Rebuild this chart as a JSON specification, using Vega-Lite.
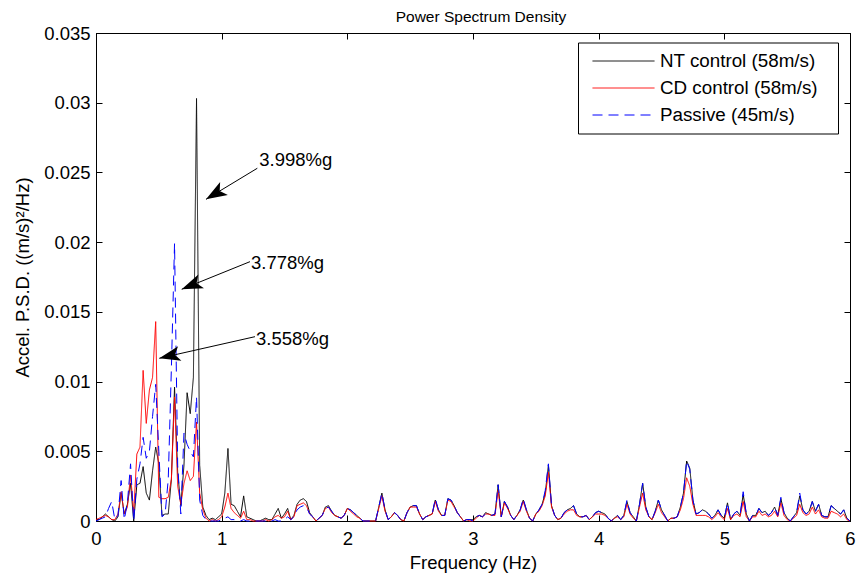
{
"$schema": "https://vega.github.io/schema/vega-lite/v6.json",
"width": 754, "height": 488,
"autosize": {"type": "none"},
"padding": {"left": 96, "top": 33, "right": 6, "bottom": 56},
"background": "white",
"title": {"text": "Power Spectrum Density", "fontSize": 15.5, "font": "Liberation Sans", "fontWeight": "normal", "color": "black", "anchor": "middle", "offset": -1, "dx": 8},
"config": {
 "view": {"stroke": "black", "strokeWidth": 1},
 "axis": {"domainColor": "black", "tickColor": "black", "labelColor": "black", "titleColor": "black", "labelFont": "Liberation Sans", "titleFont": "Liberation Sans", "labelFontSize": 18.5, "titleFontSize": 18.5, "titleFontWeight": "normal", "grid": false, "tickSize": -6, "domainWidth": 1, "tickWidth": 1, "labelFlush": false, "labelOverlap": false},
 "legend": {"orient": "none", "legendX": 482, "legendY": 9.5, "direction": "vertical", "strokeColor": "black", "fillColor": "white", "padding": 8, "symbolType": "M-0.4,0L5.8,0", "symbolSize": 400, "symbolStrokeWidth": 1, "labelFont": "Liberation Sans", "labelFontSize": 18.8, "labelColor": "black", "labelOffset": 53, "rowPadding": 6, "labelLimit": 400, "titleOrient": "right", "titlePadding": 6, "titleFontSize": 18, "titleColor": "white"}
},
"datasets": {
 "psd": [
{"f":0,"nt":0.0001,"cd":0.0001,"ps":0},
{"f":0.025,"nt":0.0001,"cd":0.0002,"ps":0.0001},
{"f":0.05,"nt":0.0003,"cd":0.0003,"ps":0.0002},
{"f":0.075,"nt":0.0005,"cd":0.0004,"ps":0.0003},
{"f":0.1,"nt":0.0003,"cd":0.0003,"ps":0.0009},
{"f":0.125,"nt":0.0001,"cd":0.0001,"ps":0.0014},
{"f":0.15,"nt":0,"cd":0.0001,"ps":0.0001},
{"f":0.175,"nt":0.0003,"cd":0.0005,"ps":0.0004},
{"f":0.2,"nt":0.002,"cd":0.0021,"ps":0.0029},
{"f":0.225,"nt":0.0005,"cd":0.0005,"ps":0.0001},
{"f":0.25,"nt":0.0012,"cd":0.001,"ps":0.0013},
{"f":0.275,"nt":0.0027,"cd":0.0033,"ps":0.0041},
{"f":0.3,"nt":0,"cd":0.0006,"ps":0},
{"f":0.325,"nt":0.0026,"cd":0.0048,"ps":0.003},
{"f":0.35,"nt":0.0027,"cd":0.0053,"ps":0.0041},
{"f":0.375,"nt":0.0039,"cd":0.0108,"ps":0.006},
{"f":0.4,"nt":0.002,"cd":0.007,"ps":0.0045},
{"f":0.425,"nt":0.0015,"cd":0.0094,"ps":0.005},
{"f":0.45,"nt":0.0036,"cd":0.0103,"ps":0.0075},
{"f":0.475,"nt":0.0053,"cd":0.0143,"ps":0.0098},
{"f":0.5,"nt":0.0041,"cd":0.0017,"ps":0.005},
{"f":0.525,"nt":0.0004,"cd":0.0016,"ps":0.0003},
{"f":0.55,"nt":0.0005,"cd":0.0016,"ps":0.0005},
{"f":0.575,"nt":0.0005,"cd":0.0017,"ps":0.003},
{"f":0.6,"nt":0.003,"cd":0.003,"ps":0.011},
{"f":0.625,"nt":0.0096,"cd":0.0089,"ps":0.0199},
{"f":0.65,"nt":0.0035,"cd":0.0025,"ps":0.004},
{"f":0.675,"nt":0.0011,"cd":0.0012,"ps":0.0005},
{"f":0.7,"nt":0.004,"cd":0.0027,"ps":0.0063},
{"f":0.725,"nt":0.0092,"cd":0.0036,"ps":0.0055},
{"f":0.75,"nt":0.0077,"cd":0.0029,"ps":0.005},
{"f":0.775,"nt":0.0103,"cd":0.0032,"ps":0.0046},
{"f":0.8,"nt":0.0303,"cd":0.0071,"ps":0.0089},
{"f":0.825,"nt":0.004,"cd":0.002,"ps":0.0015},
{"f":0.85,"nt":0.001,"cd":0.0008,"ps":0.0004},
{"f":0.875,"nt":0.0004,"cd":0.0002,"ps":0.0001},
{"f":0.9,"nt":0.0001,"cd":0,"ps":0},
{"f":0.925,"nt":0.0002,"cd":0.0001,"ps":0},
{"f":0.95,"nt":0.0001,"cd":0,"ps":0},
{"f":0.975,"nt":0.0003,"cd":0.0001,"ps":0},
{"f":1,"nt":0.0005,"cd":0.0003,"ps":0.0001},
{"f":1.025,"nt":0.002,"cd":0.001,"ps":0.0002},
{"f":1.05,"nt":0.0052,"cd":0.002,"ps":0.0003},
{"f":1.075,"nt":0.0012,"cd":0.0009,"ps":0.0001},
{"f":1.1,"nt":0.0011,"cd":0.0006,"ps":0.0001},
{"f":1.125,"nt":0.0007,"cd":0.0004,"ps":0},
{"f":1.15,"nt":0.0003,"cd":0.0002,"ps":0},
{"f":1.175,"nt":0.0018,"cd":0.0007,"ps":0.0001},
{"f":1.2,"nt":0.0003,"cd":0.0001,"ps":0},
{"f":1.225,"nt":0.0002,"cd":0.0001,"ps":0},
{"f":1.25,"nt":0.0001,"cd":0,"ps":0},
{"f":1.275,"nt":0,"cd":0,"ps":0},
{"f":1.3,"nt":0,"cd":0,"ps":0},
{"f":1.325,"nt":0.0001,"cd":0,"ps":0},
{"f":1.35,"nt":0.0002,"cd":0.0001,"ps":0},
{"f":1.375,"nt":0.0001,"cd":0,"ps":0},
{"f":1.4,"nt":0.0001,"cd":0.0001,"ps":0},
{"f":1.425,"nt":0.0005,"cd":0.0003,"ps":0.0001},
{"f":1.45,"nt":0.0009,"cd":0.0004,"ps":0},
{"f":1.475,"nt":0.0002,"cd":0.0002,"ps":0},
{"f":1.5,"nt":0.0005,"cd":0.0003,"ps":0.0001},
{"f":1.525,"nt":0.0009,"cd":0.0007,"ps":0.0003},
{"f":1.55,"nt":0.0001,"cd":0.0001,"ps":0.0001},
{"f":1.575,"nt":0.0004,"cd":0.0003,"ps":0.0003},
{"f":1.6,"nt":0.0012,"cd":0.0011,"ps":0.0008},
{"f":1.625,"nt":0.0015,"cd":0.0012,"ps":0.001},
{"f":1.65,"nt":0.0016,"cd":0.0013,"ps":0.0011},
{"f":1.675,"nt":0.0014,"cd":0.0011,"ps":0.001},
{"f":1.7,"nt":0.0006,"cd":0.0005,"ps":0.0005},
{"f":1.725,"nt":0.0003,"cd":0.0003,"ps":0.0003},
{"f":1.75,"nt":0,"cd":0,"ps":0},
{"f":1.775,"nt":0.0002,"cd":0.0002,"ps":0.0002},
{"f":1.8,"nt":0.0004,"cd":0.0004,"ps":0.0004},
{"f":1.825,"nt":0.001,"cd":0.0009,"ps":0.0009},
{"f":1.85,"nt":0.0011,"cd":0.001,"ps":0.001},
{"f":1.875,"nt":0.0007,"cd":0.0006,"ps":0.0007},
{"f":1.9,"nt":0.0004,"cd":0.0004,"ps":0.0004},
{"f":1.925,"nt":0.0003,"cd":0.0003,"ps":0.0003},
{"f":1.95,"nt":0.0002,"cd":0.0002,"ps":0.0002},
{"f":1.975,"nt":0.0004,"cd":0.0004,"ps":0.0004},
{"f":2,"nt":0.0009,"cd":0.0009,"ps":0.0009},
{"f":2.025,"nt":0.0008,"cd":0.0007,"ps":0.0008},
{"f":2.05,"nt":0.0006,"cd":0.0005,"ps":0.0006},
{"f":2.075,"nt":0.0004,"cd":0.0003,"ps":0.0004},
{"f":2.1,"nt":0.0002,"cd":0.0002,"ps":0.0002},
{"f":2.125,"nt":0,"cd":0,"ps":0},
{"f":2.15,"nt":0,"cd":0,"ps":0},
{"f":2.175,"nt":0,"cd":0,"ps":0},
{"f":2.2,"nt":0,"cd":0,"ps":0},
{"f":2.225,"nt":0,"cd":0,"ps":0},
{"f":2.25,"nt":0.001,"cd":0.0009,"ps":0.001},
{"f":2.275,"nt":0.002,"cd":0.0018,"ps":0.002},
{"f":2.3,"nt":0.0008,"cd":0.0007,"ps":0.0008},
{"f":2.325,"nt":0.0001,"cd":0.0001,"ps":0.0001},
{"f":2.35,"nt":0.0003,"cd":0.0003,"ps":0.0003},
{"f":2.375,"nt":0.0006,"cd":0.0006,"ps":0.0006},
{"f":2.4,"nt":0.0004,"cd":0.0004,"ps":0.0004},
{"f":2.425,"nt":0.0001,"cd":0.0001,"ps":0.0001},
{"f":2.45,"nt":0,"cd":0,"ps":0},
{"f":2.475,"nt":0.0006,"cd":0.0006,"ps":0.0006},
{"f":2.5,"nt":0.001,"cd":0.001,"ps":0.001},
{"f":2.525,"nt":0.0011,"cd":0.001,"ps":0.0011},
{"f":2.55,"nt":0.0011,"cd":0.001,"ps":0.0011},
{"f":2.575,"nt":0.0005,"cd":0.0005,"ps":0.0005},
{"f":2.6,"nt":0.0001,"cd":0.0001,"ps":0.0001},
{"f":2.625,"nt":0.0003,"cd":0.0003,"ps":0.0003},
{"f":2.65,"nt":0.0004,"cd":0.0004,"ps":0.0004},
{"f":2.675,"nt":0.0005,"cd":0.0005,"ps":0.0005},
{"f":2.7,"nt":0.0015,"cd":0.0014,"ps":0.0016},
{"f":2.725,"nt":0.0008,"cd":0.0007,"ps":0.0008},
{"f":2.75,"nt":0.0004,"cd":0.0004,"ps":0.0004},
{"f":2.775,"nt":0.0004,"cd":0.0004,"ps":0.0004},
{"f":2.8,"nt":0.0016,"cd":0.0015,"ps":0.0016},
{"f":2.825,"nt":0.0015,"cd":0.0014,"ps":0.0015},
{"f":2.85,"nt":0.0011,"cd":0.001,"ps":0.0011},
{"f":2.875,"nt":0.0006,"cd":0.0006,"ps":0.0006},
{"f":2.9,"nt":0.0003,"cd":0.0003,"ps":0.0003},
{"f":2.925,"nt":0,"cd":0,"ps":0},
{"f":2.95,"nt":0.0001,"cd":0.0001,"ps":0.0001},
{"f":2.975,"nt":0.0001,"cd":0,"ps":0.0001},
{"f":3,"nt":0.0001,"cd":0,"ps":0},
{"f":3.025,"nt":0.0003,"cd":0.0002,"ps":0.0003},
{"f":3.05,"nt":0.0004,"cd":0.0004,"ps":0.0004},
{"f":3.075,"nt":0.0003,"cd":0.0003,"ps":0.0003},
{"f":3.1,"nt":0.0006,"cd":0.0005,"ps":0.0005},
{"f":3.125,"nt":0.0005,"cd":0.0005,"ps":0.0005},
{"f":3.15,"nt":0.0004,"cd":0.0004,"ps":0.0004},
{"f":3.175,"nt":0.0005,"cd":0.0004,"ps":0.0005},
{"f":3.2,"nt":0.0026,"cd":0.0022,"ps":0.0026},
{"f":3.225,"nt":0.0003,"cd":0.0003,"ps":0.0003},
{"f":3.25,"nt":0.0014,"cd":0.0013,"ps":0.0014},
{"f":3.275,"nt":0.001,"cd":0.0009,"ps":0.001},
{"f":3.3,"nt":0.0004,"cd":0.0004,"ps":0.0004},
{"f":3.325,"nt":0.0001,"cd":0.0001,"ps":0.0001},
{"f":3.35,"nt":0.0004,"cd":0.0004,"ps":0.0004},
{"f":3.375,"nt":0.0008,"cd":0.0007,"ps":0.0008},
{"f":3.4,"nt":0.0015,"cd":0.0014,"ps":0.0016},
{"f":3.425,"nt":0.0008,"cd":0.0007,"ps":0.0008},
{"f":3.45,"nt":0.0002,"cd":0.0002,"ps":0.0002},
{"f":3.475,"nt":0,"cd":0,"ps":0},
{"f":3.5,"nt":0.0005,"cd":0.0005,"ps":0.0005},
{"f":3.525,"nt":0.0008,"cd":0.0007,"ps":0.0008},
{"f":3.55,"nt":0.0012,"cd":0.0011,"ps":0.0012},
{"f":3.575,"nt":0.002,"cd":0.0018,"ps":0.0022},
{"f":3.6,"nt":0.004,"cd":0.0035,"ps":0.0041},
{"f":3.625,"nt":0.0011,"cd":0.001,"ps":0.0011},
{"f":3.65,"nt":0.0004,"cd":0.0004,"ps":0.0004},
{"f":3.675,"nt":0.0001,"cd":0.0001,"ps":0.0001},
{"f":3.7,"nt":0.0002,"cd":0.0002,"ps":0.0002},
{"f":3.725,"nt":0.0006,"cd":0.0005,"ps":0.0006},
{"f":3.75,"nt":0.0008,"cd":0.0007,"ps":0.0008},
{"f":3.775,"nt":0.0009,"cd":0.0008,"ps":0.0009},
{"f":3.8,"nt":0.0011,"cd":0.0008,"ps":0.0011},
{"f":3.825,"nt":0.0005,"cd":0.0004,"ps":0.0005},
{"f":3.85,"nt":0.0003,"cd":0.0003,"ps":0.0003},
{"f":3.875,"nt":0.0003,"cd":0.0003,"ps":0.0003},
{"f":3.9,"nt":0.0004,"cd":0.0004,"ps":0.0004},
{"f":3.925,"nt":0.0001,"cd":0.0001,"ps":0.0001},
{"f":3.95,"nt":0.0003,"cd":0.0003,"ps":0.0003},
{"f":3.975,"nt":0.0006,"cd":0.0005,"ps":0.0006},
{"f":4,"nt":0.0007,"cd":0.0005,"ps":0.0007},
{"f":4.025,"nt":0.0006,"cd":0.0005,"ps":0.0006},
{"f":4.05,"nt":0.0005,"cd":0.0004,"ps":0.0005},
{"f":4.075,"nt":0.0002,"cd":0.0002,"ps":0.0002},
{"f":4.1,"nt":0,"cd":0,"ps":0},
{"f":4.125,"nt":0.0002,"cd":0.0002,"ps":0.0002},
{"f":4.15,"nt":0.0004,"cd":0.0003,"ps":0.0004},
{"f":4.175,"nt":0.0001,"cd":0.0001,"ps":0.0001},
{"f":4.2,"nt":0.0004,"cd":0.0003,"ps":0.0004},
{"f":4.225,"nt":0.0014,"cd":0.0012,"ps":0.0015},
{"f":4.25,"nt":0.0006,"cd":0.0005,"ps":0.0006},
{"f":4.275,"nt":0.0003,"cd":0.0002,"ps":0.0003},
{"f":4.3,"nt":0,"cd":0,"ps":0},
{"f":4.325,"nt":0.0012,"cd":0.001,"ps":0.0012},
{"f":4.35,"nt":0.0027,"cd":0.002,"ps":0.0027},
{"f":4.375,"nt":0.001,"cd":0.0008,"ps":0.001},
{"f":4.4,"nt":0.0003,"cd":0.0003,"ps":0.0003},
{"f":4.425,"nt":0.0001,"cd":0.0001,"ps":0.0001},
{"f":4.45,"nt":0.0007,"cd":0.0006,"ps":0.0007},
{"f":4.475,"nt":0.0015,"cd":0.0012,"ps":0.0015},
{"f":4.5,"nt":0.0008,"cd":0.0006,"ps":0.0008},
{"f":4.525,"nt":0.0004,"cd":0.0003,"ps":0.0004},
{"f":4.55,"nt":0,"cd":0,"ps":0},
{"f":4.575,"nt":0.0002,"cd":0.0002,"ps":0.0002},
{"f":4.6,"nt":0.0002,"cd":0.0002,"ps":0.0002},
{"f":4.625,"nt":0.0003,"cd":0.0003,"ps":0.0003},
{"f":4.65,"nt":0.001,"cd":0.0008,"ps":0.001},
{"f":4.675,"nt":0.002,"cd":0.0016,"ps":0.002},
{"f":4.7,"nt":0.0043,"cd":0.0031,"ps":0.0043},
{"f":4.725,"nt":0.0038,"cd":0.0025,"ps":0.0037},
{"f":4.75,"nt":0.0015,"cd":0.0012,"ps":0.0015},
{"f":4.775,"nt":0.0005,"cd":0.0004,"ps":0.0005},
{"f":4.8,"nt":0.0006,"cd":0.0004,"ps":0.0006},
{"f":4.825,"nt":0.0008,"cd":0.0004,"ps":0.0008},
{"f":4.85,"nt":0.0007,"cd":0.0004,"ps":0.0007},
{"f":4.875,"nt":0.0005,"cd":0.0003,"ps":0.0005},
{"f":4.9,"nt":0.0002,"cd":0.0001,"ps":0.0002},
{"f":4.925,"nt":0.0004,"cd":0.0003,"ps":0.0004},
{"f":4.95,"nt":0.0008,"cd":0.0006,"ps":0.0008},
{"f":4.975,"nt":0.0004,"cd":0.0003,"ps":0.0004},
{"f":5,"nt":0.0002,"cd":0.0001,"ps":0.0002},
{"f":5.025,"nt":0.0013,"cd":0.0009,"ps":0.0013},
{"f":5.05,"nt":0.0001,"cd":0.0001,"ps":0.0001},
{"f":5.075,"nt":0.0005,"cd":0.0004,"ps":0.0005},
{"f":5.1,"nt":0.0007,"cd":0.0005,"ps":0.0007},
{"f":5.125,"nt":0.0004,"cd":0.0003,"ps":0.0004},
{"f":5.15,"nt":0.0019,"cd":0.0014,"ps":0.0021},
{"f":5.175,"nt":0.0005,"cd":0.0003,"ps":0.0005},
{"f":5.2,"nt":0,"cd":0,"ps":0},
{"f":5.225,"nt":0.0004,"cd":0.0003,"ps":0.0004},
{"f":5.25,"nt":0.0004,"cd":0.0003,"ps":0.0004},
{"f":5.275,"nt":0.0009,"cd":0.0007,"ps":0.0009},
{"f":5.3,"nt":0.0006,"cd":0.0004,"ps":0.0006},
{"f":5.325,"nt":0.0007,"cd":0.0005,"ps":0.0007},
{"f":5.35,"nt":0.0004,"cd":0.0003,"ps":0.0004},
{"f":5.375,"nt":0.0006,"cd":0.0004,"ps":0.0006},
{"f":5.4,"nt":0.001,"cd":0.0007,"ps":0.001},
{"f":5.425,"nt":0.0004,"cd":0.0003,"ps":0.0004},
{"f":5.45,"nt":0.0016,"cd":0.0013,"ps":0.0017},
{"f":5.475,"nt":0.0006,"cd":0.0004,"ps":0.0006},
{"f":5.5,"nt":0.0002,"cd":0.0001,"ps":0.0002},
{"f":5.525,"nt":0,"cd":0,"ps":0},
{"f":5.55,"nt":0.0003,"cd":0.0002,"ps":0.0003},
{"f":5.575,"nt":0.0006,"cd":0.0004,"ps":0.0006},
{"f":5.6,"nt":0.0018,"cd":0.0012,"ps":0.002},
{"f":5.625,"nt":0.0008,"cd":0.0006,"ps":0.0008},
{"f":5.65,"nt":0.0005,"cd":0.0004,"ps":0.0005},
{"f":5.675,"nt":0.0007,"cd":0.0005,"ps":0.0007},
{"f":5.7,"nt":0.0014,"cd":0.001,"ps":0.0014},
{"f":5.725,"nt":0.0007,"cd":0.0005,"ps":0.0007},
{"f":5.75,"nt":0.0012,"cd":0.0008,"ps":0.0012},
{"f":5.775,"nt":0.0004,"cd":0.0003,"ps":0.0004},
{"f":5.8,"nt":0.0003,"cd":0.0002,"ps":0.0003},
{"f":5.825,"nt":0.0003,"cd":0.0002,"ps":0.0003},
{"f":5.85,"nt":0.0011,"cd":0.0007,"ps":0.0011},
{"f":5.875,"nt":0.0009,"cd":0.0006,"ps":0.0009},
{"f":5.9,"nt":0.0007,"cd":0.0005,"ps":0.0007},
{"f":5.925,"nt":0.0005,"cd":0.0003,"ps":0.0005},
{"f":5.95,"nt":0.0008,"cd":0.0005,"ps":0.0008},
{"f":5.975,"nt":0.0002,"cd":0.0001,"ps":0.0002},
{"f":6,"nt":0,"cd":0,"ps":0}
 ],
 "notes": [
  {"label": "3.998%g", "lx": 1.2996, "ly": 0.02589, "tx": 1.2837, "ty": 0.0253, "hx": 0.8753, "hy": 0.02307},
  {"label": "3.778%g", "lx": 1.2334, "ly": 0.01848, "tx": 1.2254, "ty": 0.0186, "hx": 0.682, "hy": 0.01662},
  {"label": "3.558%g", "lx": 1.2732, "ly": 0.01303, "tx": 1.2652, "ty": 0.01322, "hx": 0.5037, "hy": 0.01167}
 ]
},
"layer": [
 {
  "data": {"name": "psd"},
  "transform": [{"fold": ["nt", "cd", "ps"], "as": ["series", "psd"]}],
  "mark": {"type": "line", "strokeWidth": 1},
  "encoding": {
   "x": {"field": "f", "type": "quantitative", "scale": {"domain": [0, 6], "nice": false}, "axis": {"orient": "bottom", "title": "Frequency (Hz)", "values": [0, 1, 2, 3, 4, 5, 6], "format": "~g", "labelPadding": 14, "titlePadding": 6}},
   "y": {"field": "psd", "type": "quantitative", "scale": {"domain": [0, 0.035], "nice": false, "zero": true}, "axis": {"orient": "left", "title": "Accel. P.S.D. ((m/s)²/Hz)", "values": [0, 0.005, 0.01, 0.015, 0.02, 0.025, 0.03, 0.035], "format": "~g", "labelPadding": 12, "titlePadding": 11}},
   "color": {"field": "series", "type": "nominal", "scale": {"domain": ["nt", "cd", "ps"], "range": ["#000000", "#ff0000", "#0000ff"]}, "legend": {"title": "i", "labelExpr": "datum.value == 'nt' ? 'NT control (58m/s)' : datum.value == 'cd' ? 'CD control (58m/s)' : 'Passive (45m/s)'"}},
   "strokeDash": {"field": "series", "type": "nominal", "scale": {"domain": ["nt", "cd", "ps"], "range": [[1, 0], [1, 0], [10, 6]]}, "legend": {"title": "i", "labelExpr": "datum.value == 'nt' ? 'NT control (58m/s)' : datum.value == 'cd' ? 'CD control (58m/s)' : 'Passive (45m/s)'"}}
  }
 },
 {
  "data": {"name": "notes"},
  "mark": {"type": "rule", "color": "black", "strokeWidth": 1},
  "encoding": {
   "x": {"field": "tx", "type": "quantitative", "scale": {"domain": [0, 6], "nice": false}, "axis": null},
   "y": {"field": "ty", "type": "quantitative", "scale": {"domain": [0, 0.035], "nice": false}, "axis": null},
   "x2": {"field": "hx"},
   "y2": {"field": "hy"}
  }
 },
 {
  "data": {"name": "notes"},
  "mark": {"type": "text", "align": "left", "baseline": "middle", "font": "Liberation Sans", "fontSize": 18.5, "color": "black"},
  "encoding": {
   "x": {"field": "lx", "type": "quantitative", "scale": {"domain": [0, 6], "nice": false}, "axis": null},
   "y": {"field": "ly", "type": "quantitative", "scale": {"domain": [0, 0.035], "nice": false}, "axis": null},
   "text": {"field": "label"}
  }
 },
 {
  "data": {"name": "notes"},
  "transform": [{"filter": "datum.label == '3.998%g'"}],
  "mark": {"type": "point", "shape": "M0,0L0.375,1.05L0,0.8L-0.375,1.05Z", "size": 1600, "filled": true, "color": "black", "opacity": 1, "angle": 239},
  "encoding": {
   "x": {"field": "hx", "type": "quantitative", "scale": {"domain": [0, 6], "nice": false}, "axis": null},
   "y": {"field": "hy", "type": "quantitative", "scale": {"domain": [0, 0.035], "nice": false}, "axis": null}
  }
 },
 {
  "data": {"name": "notes"},
  "transform": [{"filter": "datum.label == '3.778%g'"}],
  "mark": {"type": "point", "shape": "M0,0L0.375,1.05L0,0.8L-0.375,1.05Z", "size": 1600, "filled": true, "color": "black", "opacity": 1, "angle": 248},
  "encoding": {
   "x": {"field": "hx", "type": "quantitative", "scale": {"domain": [0, 6], "nice": false}, "axis": null},
   "y": {"field": "hy", "type": "quantitative", "scale": {"domain": [0, 0.035], "nice": false}, "axis": null}
  }
 },
 {
  "data": {"name": "notes"},
  "transform": [{"filter": "datum.label == '3.558%g'"}],
  "mark": {"type": "point", "shape": "M0,0L0.375,1.05L0,0.8L-0.375,1.05Z", "size": 1600, "filled": true, "color": "black", "opacity": 1, "angle": 257},
  "encoding": {
   "x": {"field": "hx", "type": "quantitative", "scale": {"domain": [0, 6], "nice": false}, "axis": null},
   "y": {"field": "hy", "type": "quantitative", "scale": {"domain": [0, 0.035], "nice": false}, "axis": null}
  }
 },
 {
  "data": {"name": "notes"},
  "mark": {"type": "point", "opacity": 0},
  "encoding": {
   "x": {"field": "hx", "type": "quantitative", "scale": {"domain": [0, 6], "nice": false}, "axis": {"orient": "top", "labels": false, "title": null, "values": [0, 1, 2, 3, 4, 5, 6]}},
   "y": {"field": "hy", "type": "quantitative", "scale": {"domain": [0, 0.035], "nice": false}, "axis": {"orient": "right", "labels": false, "title": null, "values": [0, 0.005, 0.01, 0.015, 0.02, 0.025, 0.03, 0.035]}}
  }
 }
],
"resolve": {"axis": {"x": "independent", "y": "independent"}}
}
